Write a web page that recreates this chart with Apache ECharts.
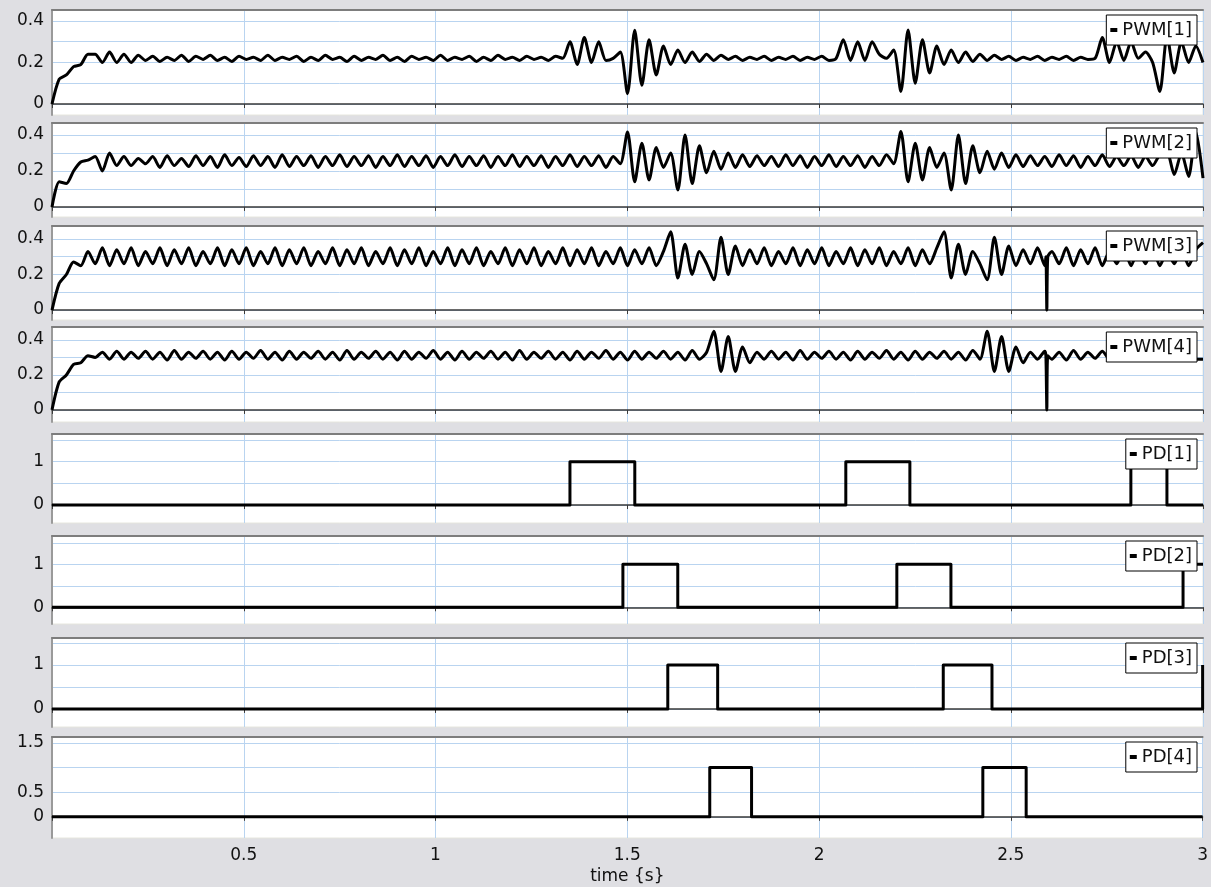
<!DOCTYPE html>
<html>
<head>
<meta charset="utf-8">
<script src="https://cdn.jsdelivr.net/npm/echarts@6/dist/echarts.min.js"></script>
<style>
  html, body { margin: 0; padding: 0; background: #dfdfe3; }
  #main { width: 1211px; height: 887px; }
</style>
</head>
<body>
<div id="main"></div>
<script>
// sample spacing of the PWM traces (s)
var pwmStep = 0.01875;

var pwm1 = [
  0, 0.12, 0.14, 0.18, 0.19, 0.24, 0.24, 0.20, 0.25, 0.20,
  0.24, 0.20, 0.235, 0.21, 0.23, 0.205, 0.225, 0.21, 0.235, 0.205,
  0.23, 0.215, 0.235, 0.21, 0.225, 0.205, 0.23, 0.215, 0.225, 0.21,
  0.235, 0.21, 0.225, 0.215, 0.23, 0.205, 0.225, 0.21, 0.235, 0.215,
  0.225, 0.205, 0.23, 0.21, 0.225, 0.215, 0.235, 0.21, 0.225, 0.205,
  0.23, 0.215, 0.225, 0.21, 0.235, 0.21, 0.225, 0.215, 0.23, 0.205,
  0.225, 0.21, 0.235, 0.215, 0.225, 0.21, 0.23, 0.215, 0.225, 0.21,
  0.23, 0.22, 0.30, 0.19, 0.32, 0.20, 0.30, 0.21, 0.22, 0.25,
  0.05, 0.355, 0.09, 0.31, 0.14, 0.28, 0.19, 0.26, 0.20, 0.25,
  0.205, 0.24, 0.21, 0.235, 0.215, 0.23, 0.21, 0.225, 0.215, 0.23,
  0.21, 0.225, 0.215, 0.23, 0.21, 0.225, 0.215, 0.23, 0.21, 0.22,
  0.31, 0.21, 0.30, 0.21, 0.30, 0.24, 0.22, 0.26, 0.06, 0.357,
  0.10, 0.31, 0.15, 0.28, 0.19, 0.26, 0.20, 0.25, 0.205, 0.24,
  0.21, 0.235, 0.215, 0.23, 0.21, 0.225, 0.215, 0.23, 0.21, 0.225,
  0.215, 0.23, 0.21, 0.225, 0.215, 0.22, 0.32, 0.20, 0.30, 0.21,
  0.30, 0.22, 0.25, 0.20, 0.06, 0.33, 0.15, 0.30, 0.20, 0.28,
  0.20
];
var pwm2 = [
  0, 0.14, 0.13, 0.20, 0.25, 0.26, 0.28, 0.20, 0.30, 0.23,
  0.28, 0.23, 0.27, 0.24, 0.28, 0.22, 0.285, 0.23, 0.27, 0.225,
  0.285, 0.23, 0.28, 0.22, 0.29, 0.23, 0.275, 0.225, 0.285, 0.23,
  0.28, 0.22, 0.29, 0.225, 0.28, 0.23, 0.285, 0.22, 0.28, 0.23,
  0.29, 0.225, 0.28, 0.23, 0.285, 0.22, 0.28, 0.23, 0.29, 0.225,
  0.28, 0.23, 0.285, 0.22, 0.28, 0.23, 0.29, 0.225, 0.28, 0.23,
  0.285, 0.22, 0.28, 0.23, 0.29, 0.225, 0.28, 0.23, 0.285, 0.22,
  0.28, 0.23, 0.29, 0.225, 0.28, 0.23, 0.285, 0.22, 0.28, 0.24,
  0.417, 0.14, 0.355, 0.15, 0.33, 0.22, 0.30, 0.094, 0.40, 0.13,
  0.34, 0.19, 0.31, 0.21, 0.30, 0.22, 0.29, 0.225, 0.285, 0.23,
  0.28, 0.225, 0.29, 0.23, 0.285, 0.22, 0.28, 0.23, 0.29, 0.225,
  0.28, 0.23, 0.285, 0.22, 0.28, 0.23, 0.29, 0.24, 0.42, 0.14,
  0.355, 0.15, 0.33, 0.22, 0.30, 0.094, 0.40, 0.13, 0.34, 0.19,
  0.31, 0.21, 0.30, 0.22, 0.29, 0.225, 0.285, 0.23, 0.28, 0.225,
  0.29, 0.23, 0.285, 0.22, 0.28, 0.23, 0.29, 0.225, 0.28, 0.23,
  0.285, 0.22, 0.28, 0.23, 0.29, 0.30, 0.18, 0.30, 0.17, 0.42,
  0.16
];
var pwm3 = [
  0, 0.15, 0.20, 0.27, 0.25, 0.33, 0.26, 0.35, 0.25, 0.34,
  0.26, 0.35, 0.25, 0.33, 0.26, 0.35, 0.25, 0.34, 0.26, 0.35,
  0.25, 0.33, 0.26, 0.35, 0.25, 0.34, 0.26, 0.35, 0.25, 0.33,
  0.26, 0.35, 0.25, 0.34, 0.26, 0.35, 0.25, 0.33, 0.26, 0.35,
  0.25, 0.34, 0.26, 0.35, 0.25, 0.33, 0.26, 0.35, 0.25, 0.34,
  0.26, 0.35, 0.25, 0.33, 0.26, 0.35, 0.25, 0.34, 0.26, 0.35,
  0.25, 0.33, 0.26, 0.35, 0.25, 0.34, 0.26, 0.35, 0.25, 0.33,
  0.26, 0.35, 0.25, 0.34, 0.26, 0.35, 0.25, 0.33, 0.26, 0.35,
  0.25, 0.34, 0.26, 0.35, 0.25, 0.33, 0.44, 0.18, 0.37, 0.20,
  0.33, 0.26, 0.17, 0.41, 0.20, 0.36, 0.25, 0.34, 0.26, 0.35,
  0.25, 0.33, 0.26, 0.35, 0.25, 0.34, 0.26, 0.35, 0.25, 0.33,
  0.26, 0.35, 0.25, 0.34, 0.26, 0.35, 0.25, 0.33, 0.26, 0.35,
  0.25, 0.34, 0.26, 0.35, 0.44, 0.18, 0.37, 0.20, 0.33, 0.26,
  0.17, 0.41, 0.20, 0.36, 0.25, 0.34, 0.26, 0.35, 0.25, 0.33,
  0.26, 0.35, 0.25, 0.34, 0.26, 0.35, 0.25, 0.33, 0.26, 0.35,
  0.25, 0.34, 0.26, 0.35, 0.25, 0.33, 0.26, 0.35, 0.25, 0.34,
  0.38
];
var pwm4 = [
  0, 0.16, 0.20, 0.26, 0.27, 0.31, 0.30, 0.33, 0.29, 0.335,
  0.29, 0.33, 0.295, 0.335, 0.29, 0.33, 0.285, 0.34, 0.29, 0.33,
  0.295, 0.335, 0.29, 0.33, 0.285, 0.335, 0.29, 0.33, 0.295, 0.34,
  0.29, 0.33, 0.285, 0.335, 0.29, 0.33, 0.295, 0.335, 0.29, 0.33,
  0.285, 0.34, 0.29, 0.33, 0.295, 0.335, 0.29, 0.33, 0.285, 0.335,
  0.29, 0.33, 0.295, 0.34, 0.29, 0.33, 0.285, 0.335, 0.29, 0.33,
  0.295, 0.335, 0.29, 0.33, 0.285, 0.34, 0.29, 0.33, 0.295, 0.335,
  0.29, 0.33, 0.285, 0.335, 0.29, 0.33, 0.295, 0.34, 0.29, 0.33,
  0.285, 0.335, 0.29, 0.33, 0.295, 0.335, 0.29, 0.33, 0.285, 0.34,
  0.29, 0.33, 0.45, 0.22, 0.42, 0.22, 0.36, 0.27, 0.33, 0.29,
  0.335, 0.29, 0.33, 0.285, 0.34, 0.29, 0.33, 0.295, 0.335, 0.29,
  0.33, 0.285, 0.335, 0.29, 0.33, 0.295, 0.34, 0.29, 0.33, 0.285,
  0.335, 0.29, 0.33, 0.295, 0.335, 0.29, 0.33, 0.285, 0.34, 0.29,
  0.45, 0.22, 0.42, 0.22, 0.36, 0.27, 0.33, 0.29, 0.335, 0.29,
  0.33, 0.285, 0.34, 0.29, 0.33, 0.295, 0.335, 0.29, 0.33, 0.285,
  0.335, 0.29, 0.33, 0.295, 0.34, 0.29, 0.33, 0.285, 0.335, 0.29,
  0.29
];

// short dropout to zero seen on PWM[3] and PWM[4]
var dropTime = [2.5905, 2.593, 2.5955];
var pwm3Drop = [0.30, 0, 0.30];
var pwm4Drop = [0.31, 0, 0.31];

// PD signals: switching times (s) and the level held from each time on
var pd1Time = [0, 1.350, 1.519, 2.069, 2.236, 2.812, 2.906, 3.0];
var pd1Val  = [0, 1, 0, 1, 0, 1, 0, 0];
var pd2Time = [0, 1.488, 1.631, 2.202, 2.343, 2.948, 3.0];
var pd2Val  = [0, 1, 0, 1, 0, 1, 1];
var pd3Time = [0, 1.605, 1.735, 2.323, 2.450, 2.999, 3.0];
var pd3Val  = [0, 1, 0, 1, 0, 1, 1];
var pd4Time = [0, 1.715, 1.824, 2.427, 2.540, 3.0];
var pd4Val  = [0, 1, 0, 1, 0, 0];

var names = ['PWM[1]', 'PWM[2]', 'PWM[3]', 'PWM[4]', 'PD[1]', 'PD[2]', 'PD[3]', 'PD[4]'];
var pwmTicks = ['0', '0.2', '0.4'];
var pdTicks = ['0', '1'];
var pd4Ticks = ['0', '0.5', '1.5'];
var xTicks = ['0.5', '1', '1.5', '2', '2.5', '3'];

function pwmPairs(vals, extraT, extraV) {
  var pts = [];
  for (var i = 0; i < vals.length; i++) {
    pts.push([+(i * pwmStep).toFixed(5), vals[i]]);
  }
  if (extraT) {
    for (var j = 0; j < extraT.length; j++) pts.push([extraT[j], extraV[j]]);
    pts.sort(function (a, b) { return a[0] - b[0]; });
  }
  return pts;
}
function pdPairs(t, v) {
  var pts = [];
  for (var i = 0; i < t.length; i++) pts.push([t[i], v[i]]);
  return pts;
}

var seriesData = [
  pwmPairs(pwm1), pwmPairs(pwm2),
  pwmPairs(pwm3, dropTime, pwm3Drop), pwmPairs(pwm4, dropTime, pwm4Drop),
  pdPairs(pd1Time, pd1Val), pdPairs(pd2Time, pd2Val),
  pdPairs(pd3Time, pd3Val), pdPairs(pd4Time, pd4Val)
];
var tickLists = [pwmTicks, pwmTicks, pwmTicks, pwmTicks, pdTicks, pdTicks, pdTicks, pd4Ticks];

// layout of the eight stacked panels (px) and their y extents
var panels = [
  { top: 10,  height: 105, min: -0.053, max: 0.453 },
  { top: 123, height: 94,  min: -0.056, max: 0.467 },
  { top: 226, height: 94,  min: -0.056, max: 0.473 },
  { top: 327, height: 95,  min: -0.069, max: 0.474 },
  { top: 434, height: 89,  min: -0.415, max: 1.64 },
  { top: 536, height: 88,  min: -0.39,  max: 1.66 },
  { top: 638, height: 89,  min: -0.41,  max: 1.61 },
  { top: 737, height: 101, min: -0.43,  max: 1.62 }
];

var font = 'DejaVu Sans';
var gridColor = '#b9d4f0';
var grids = [], xAxes = [], yAxes = [], series = [], legends = [];

panels.forEach(function (p, i) {
  var last = i === panels.length - 1;
  grids.push({
    left: 52, right: 8, top: p.top, height: p.height,
    show: true, backgroundColor: '#ffffff',
    borderColor: '#e6e6de', borderWidth: 1
  });
  // axis through y = 0 with ticks and vertical grid lines
  xAxes.push({
    type: 'value', gridIndex: i, min: 0, max: 3, interval: 0.5,
    axisLine: { onZero: true, lineStyle: { color: '#3a3a3a', width: 1.5 } },
    axisTick: { show: true, length: 4, lineStyle: { color: '#3a3a3a' } },
    axisLabel: { show: false },
    splitLine: { show: true, lineStyle: { color: gridColor, width: 1 } }
  });
  // darker top edge of the panel frame
  xAxes.push({
    type: 'value', gridIndex: i, min: 0, max: 3, position: 'top',
    axisLine: { onZero: false, lineStyle: { color: '#7d7d7d', width: 2 } },
    axisTick: { show: false }, axisLabel: { show: false }, splitLine: { show: false }
  });
  if (last) {
    xAxes.push({
      type: 'value', gridIndex: i, min: 0, max: 3, interval: 0.5, position: 'bottom',
      axisLine: { show: false, onZero: false }, axisTick: { show: false },
      splitLine: { show: false },
      axisLabel: {
        show: true, margin: 9, color: '#111', fontSize: 17, fontFamily: font,
        showMinLabel: false,
        formatter: function (v) {
          var s = String(+v.toFixed(3));
          return xTicks.indexOf(s) >= 0 ? s : '';
        }
      },
      name: 'time {s}', nameLocation: 'middle', nameGap: 30,
      nameTextStyle: { color: '#111', fontSize: 17, fontFamily: font }
    });
  }
  var ticks = tickLists[i];
  yAxes.push({
    type: 'value', gridIndex: i, min: p.min, max: p.max, splitNumber: 5,
    axisLine: { show: true, onZero: false, lineStyle: { color: '#9a9a9a', width: 2 } },
    axisTick: { show: false },
    axisLabel: {
      margin: 8, color: '#111', fontSize: 17, fontFamily: font,
      showMinLabel: false, showMaxLabel: false,
      formatter: function (v) {
        var s = String(+v.toFixed(3));
        return ticks.indexOf(s) >= 0 ? s : '';
      }
    },
    splitLine: { show: true, showMinLine: false, showMaxLine: false,
      lineStyle: { color: gridColor, width: 1 } }
  });
  var isPd = i >= 4;
  series.push({
    name: names[i], type: 'line',
    xAxisIndex: xAxes.length - (last ? 3 : 2), yAxisIndex: i,
    data: seriesData[i],
    showSymbol: false, symbol: 'none',
    step: isPd ? 'end' : false,
    smooth: isPd ? false : 0.25,
    lineStyle: { color: '#000', width: 3, join: 'round' },
    itemStyle: { color: '#000' },
    z: 3
  });
  legends.push({
    data: [names[i]], right: 14, top: p.top + 5,
    orient: 'horizontal', selectedMode: false,
    icon: 'rect', itemWidth: 7, itemHeight: 4,
    backgroundColor: '#ffffff', borderColor: '#000', borderWidth: 1,
    borderRadius: 0, padding: [6, 5, 6, 4],
    textStyle: { color: '#111', fontSize: 18, fontFamily: font }
  });
});

var chart = echarts.init(document.getElementById('main'));
chart.setOption({
  animation: false,
  backgroundColor: '#dfdfe3',
  grid: grids,
  xAxis: xAxes,
  yAxis: yAxes,
  legend: legends,
  series: series
});
</script>
</body>
</html>
